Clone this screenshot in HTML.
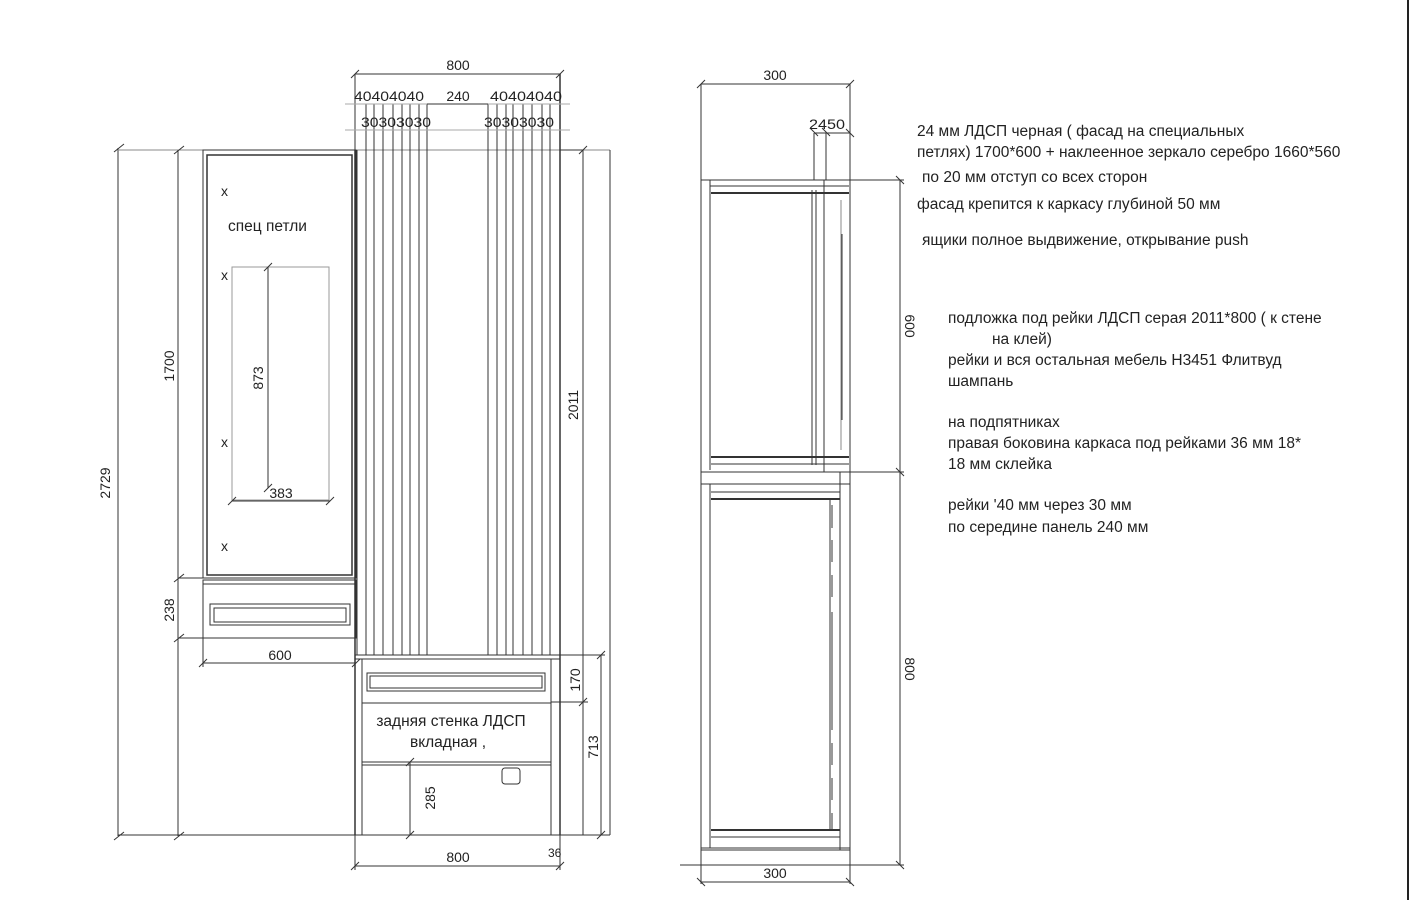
<!DOCTYPE html>
<html><head><meta charset="utf-8"><style>
html,body{margin:0;padding:0;background:#fff;}
svg{display:block}
text{font-family:"Liberation Sans","DejaVu Sans",sans-serif;fill:#222}
.t{font-size:14px}
.n{font-size:15.5px}
.d{font-size:14px}
</style></head><body>
<svg width="1418" height="900" viewBox="0 0 1418 900" xmlns="http://www.w3.org/2000/svg">
<g stroke="#333" stroke-width="1" fill="none">
<line x1="118" y1="148" x2="118" y2="836"/>
<line x1="114" y1="152" x2="124" y2="144"/><line x1="114" y1="840" x2="124" y2="832"/>
<line x1="118" y1="835" x2="610" y2="835"/>
<line x1="118" y1="150" x2="610" y2="150" stroke="#888"/>
<line x1="178" y1="150" x2="178" y2="836"/>
<line x1="174" y1="154" x2="184" y2="146"/><line x1="174" y1="582" x2="184" y2="574"/>
<line x1="174" y1="642" x2="184" y2="634"/><line x1="174" y1="840" x2="184" y2="832"/>
<line x1="178" y1="578" x2="255" y2="578"/><line x1="178" y1="638" x2="356" y2="638"/>
<rect x="203" y="150" width="153" height="428"/>
<rect x="207" y="155" width="145" height="420" stroke-width="1.5"/>
<rect x="232" y="267" width="97" height="233" stroke="#999"/>
<line x1="268" y1="267" x2="268" y2="488"/>
<line x1="264" y1="271" x2="272" y2="263"/><line x1="264" y1="492" x2="272" y2="484"/>
<line x1="232" y1="501" x2="330" y2="501"/>
<line x1="228" y1="505" x2="236" y2="497"/><line x1="326" y1="505" x2="334" y2="497"/>
<rect x="203" y="580" width="153" height="58"/>
<line x1="203" y1="584" x2="356" y2="584"/>
<rect x="210" y="604" width="140" height="21"/>
<rect x="214" y="608" width="132" height="14"/>
<line x1="203" y1="638" x2="203" y2="667"/><line x1="203" y1="663" x2="356" y2="663"/>
<line x1="199" y1="667" x2="207" y2="659"/><line x1="352" y1="667" x2="360" y2="659"/>
<line x1="355" y1="150" x2="355" y2="835" stroke-width="1.5"/>
<line x1="357" y1="150" x2="357" y2="655"/>
<g>
<line x1="366" y1="104" x2="366" y2="655"/><line x1="374" y1="104" x2="374" y2="655"/>
<line x1="383" y1="104" x2="383" y2="655"/><line x1="393" y1="104" x2="393" y2="655"/>
<line x1="402" y1="104" x2="402" y2="655"/><line x1="410" y1="104" x2="410" y2="655"/>
<line x1="419" y1="104" x2="419" y2="655"/><line x1="427" y1="104" x2="427" y2="655"/>
<line x1="488" y1="104" x2="488" y2="655"/><line x1="497" y1="104" x2="497" y2="655"/>
<line x1="506" y1="104" x2="506" y2="655"/><line x1="513" y1="104" x2="513" y2="655"/>
<line x1="523" y1="104" x2="523" y2="655"/><line x1="532" y1="104" x2="532" y2="655"/>
<line x1="542" y1="104" x2="542" y2="655"/><line x1="550" y1="104" x2="550" y2="655"/>
<line x1="560" y1="74" x2="560" y2="835" stroke-width="1.5"/>
</g>
<line x1="355" y1="74" x2="355" y2="150"/>
<line x1="355" y1="74" x2="560" y2="74"/>
<line x1="351" y1="78" x2="359" y2="70"/><line x1="556" y1="78" x2="564" y2="70"/>
<line x1="345" y1="104" x2="570" y2="104" stroke="#aaa"/>
<line x1="345" y1="130" x2="570" y2="130" stroke="#aaa"/>
<line x1="427" y1="104" x2="488" y2="104"/>
<line x1="560" y1="150" x2="583" y2="150"/>
<line x1="583" y1="150" x2="583" y2="835"/>
<line x1="579" y1="154" x2="587" y2="146"/>
<line x1="610" y1="150" x2="610" y2="835"/>
<rect x="355" y="655" width="205" height="180"/>
<line x1="355" y1="659" x2="560" y2="659"/>
<line x1="362" y1="659" x2="362" y2="835"/>
<line x1="551" y1="659" x2="551" y2="835"/>
<line x1="362" y1="703" x2="551" y2="703"/>
<rect x="367" y="673" width="178" height="18"/>
<rect x="370" y="676" width="172" height="12"/>
<line x1="362" y1="762" x2="551" y2="762"/><line x1="362" y1="765" x2="551" y2="765"/>
<rect x="502" y="768" width="18" height="16" rx="3"/>
<line x1="410" y1="762" x2="410" y2="835"/>
<line x1="406" y1="766" x2="414" y2="758"/><line x1="406" y1="839" x2="414" y2="831"/>
<line x1="560" y1="655" x2="605" y2="655"/><line x1="551" y1="702" x2="588" y2="702"/>
<line x1="583" y1="655" x2="583" y2="702"/>
<line x1="601" y1="655" x2="601" y2="835"/>
<line x1="597" y1="659" x2="605" y2="651"/><line x1="597" y1="839" x2="605" y2="831"/>
<line x1="579" y1="706" x2="587" y2="698"/>
<line x1="355" y1="835" x2="355" y2="870"/><line x1="560" y1="835" x2="560" y2="870"/>
<line x1="355" y1="866" x2="560" y2="866"/>
<line x1="351" y1="870" x2="359" y2="862"/><line x1="556" y1="870" x2="564" y2="862"/>
<line x1="701" y1="84" x2="850" y2="84"/>
<line x1="697" y1="88" x2="705" y2="80"/><line x1="846" y1="88" x2="854" y2="80"/>
<line x1="701" y1="84" x2="701" y2="180"/><line x1="850" y1="84" x2="850" y2="180"/>
<line x1="814" y1="133" x2="850" y2="133"/>
<line x1="814" y1="133" x2="814" y2="180"/><line x1="826" y1="133" x2="826" y2="180"/>
<line x1="810" y1="128" x2="818" y2="136"/><line x1="822" y1="128" x2="830" y2="136"/><line x1="846" y1="129" x2="854" y2="137"/>
<rect x="701" y="180" width="149" height="292"/>
<line x1="710" y1="180" x2="710" y2="470"/>
<line x1="710" y1="186" x2="849" y2="186"/>
<line x1="711" y1="193" x2="849" y2="193" stroke-width="2"/>
<line x1="711" y1="457" x2="849" y2="457" stroke-width="2"/>
<line x1="711" y1="464" x2="849" y2="464"/>
<line x1="812" y1="190" x2="812" y2="465"/><line x1="816" y1="190" x2="816" y2="465"/>
<line x1="824" y1="180" x2="824" y2="472"/>
<line x1="841" y1="200" x2="841" y2="450" stroke="#888"/>
<line x1="842" y1="234" x2="842" y2="420"/>
<rect x="701" y="472" width="149" height="378"/>
<line x1="701" y1="484" x2="850" y2="484"/>
<line x1="710" y1="484" x2="710" y2="848"/>
<line x1="711" y1="492" x2="840" y2="492"/>
<line x1="711" y1="499" x2="840" y2="499" stroke-width="2"/>
<line x1="711" y1="830" x2="840" y2="830" stroke-width="2"/>
<line x1="711" y1="837" x2="840" y2="837"/>
<line x1="701" y1="848" x2="850" y2="848"/>
<line x1="830" y1="499" x2="830" y2="830"/>
<line x1="840" y1="472" x2="840" y2="850"/>
<line x1="832" y1="505" x2="832" y2="528"/><line x1="832" y1="540" x2="832" y2="562"/>
<line x1="832" y1="575" x2="832" y2="597"/><line x1="832" y1="612" x2="832" y2="730"/>
<line x1="832" y1="743" x2="832" y2="765"/><line x1="832" y1="778" x2="832" y2="800"/>
<line x1="832" y1="813" x2="832" y2="830"/>
<line x1="850" y1="180" x2="904" y2="180"/><line x1="850" y1="472" x2="904" y2="472"/>
<line x1="680" y1="865" x2="904" y2="865"/>
<line x1="900" y1="180" x2="900" y2="865"/>
<line x1="896" y1="176" x2="904" y2="184"/><line x1="896" y1="468" x2="904" y2="476"/><line x1="896" y1="861" x2="904" y2="869"/>
<line x1="701" y1="850" x2="701" y2="884"/><line x1="850" y1="850" x2="850" y2="884"/>
<line x1="701" y1="882" x2="850" y2="882"/>
<line x1="697" y1="878" x2="705" y2="886"/><line x1="846" y1="878" x2="854" y2="886"/>
<line x1="1408" y1="0" x2="1408" y2="900" stroke="#222" stroke-width="2"/>
</g>
<text class="d" x="458" y="70" text-anchor="middle">800</text>
<text x="354" y="101" style="font-size:14px" textLength="70" lengthAdjust="spacingAndGlyphs">40404040</text>
<text class="d" x="458" y="101" text-anchor="middle">240</text>
<text x="490" y="101" style="font-size:14px" textLength="72" lengthAdjust="spacingAndGlyphs">40404040</text>
<text x="361" y="127" style="font-size:14px" textLength="70" lengthAdjust="spacingAndGlyphs">30303030</text>
<text x="484" y="127" style="font-size:14px" textLength="70" lengthAdjust="spacingAndGlyphs">30303030</text>
<text class="t" x="221" y="196">x</text>
<text class="n" x="228" y="231">спец петли</text>
<text class="t" x="221" y="280">x</text>
<text class="t" x="221" y="447">x</text>
<text class="t" x="221" y="551">x</text>
<text class="d" transform="translate(263,378) rotate(-90)" text-anchor="middle">873</text>
<text class="d" x="281" y="498" text-anchor="middle">383</text>
<text class="d" transform="translate(174,366) rotate(-90)" text-anchor="middle">1700</text>
<text class="d" transform="translate(110,483) rotate(-90)" text-anchor="middle">2729</text>
<text class="d" transform="translate(174,610) rotate(-90)" text-anchor="middle">238</text>
<text class="d" x="280" y="660" text-anchor="middle">600</text>
<text class="d" transform="translate(578,405) rotate(-90)" text-anchor="middle">2011</text>
<text class="d" transform="translate(580,680) rotate(-90)" text-anchor="middle">170</text>
<text class="d" transform="translate(598,747) rotate(-90)" text-anchor="middle">713</text>
<text class="d" transform="translate(435,798) rotate(-90)" text-anchor="middle">285</text>
<text class="n" x="451" y="726" text-anchor="middle">задняя стенка ЛДСП</text>
<text class="n" x="448" y="747" text-anchor="middle">вкладная ,</text>
<text class="d" x="458" y="862" text-anchor="middle">800</text>
<text x="548" y="857" style="font-size:12px">36</text>
<text class="d" x="775" y="80" text-anchor="middle">300</text>
<text x="809" y="129" style="font-size:14px" textLength="36" lengthAdjust="spacingAndGlyphs">2450</text>
<text class="d" transform="translate(905,326) rotate(90)" text-anchor="middle">600</text>
<text class="d" transform="translate(905,669) rotate(90)" text-anchor="middle">800</text>
<text class="d" x="775" y="878" text-anchor="middle">300</text>
<g class="n">
<text x="917" y="136">24  мм ЛДСП черная  ( фасад на специальных</text>
<text x="917" y="157">петлях) 1700*600 + наклеенное зеркало  серебро 1660*560</text>
<text x="922" y="182">по 20 мм отступ со всех сторон</text>
<text x="917" y="209">фасад крепится к каркасу  глубиной 50 мм</text>
<text x="922" y="245">ящики полное выдвижение, открывание push</text>
<text x="948" y="323">подложка под рейки  ЛДСП серая  2011*800 ( к  стене</text>
<text x="992" y="344">на клей)</text>
<text x="948" y="365">рейки и вся остальная мебель  Н3451 Флитвуд</text>
<text x="948" y="386">шампань</text>
<text x="948" y="427">на подпятниках</text>
<text x="948" y="448">правая боковина каркаса под рейками 36 мм 18*</text>
<text x="948" y="469">18 мм склейка</text>
<text x="948" y="510">рейки  '40 мм через 30 мм</text>
<text x="948" y="532">по середине панель  240 мм</text>
</g>
</svg>
</body></html>
